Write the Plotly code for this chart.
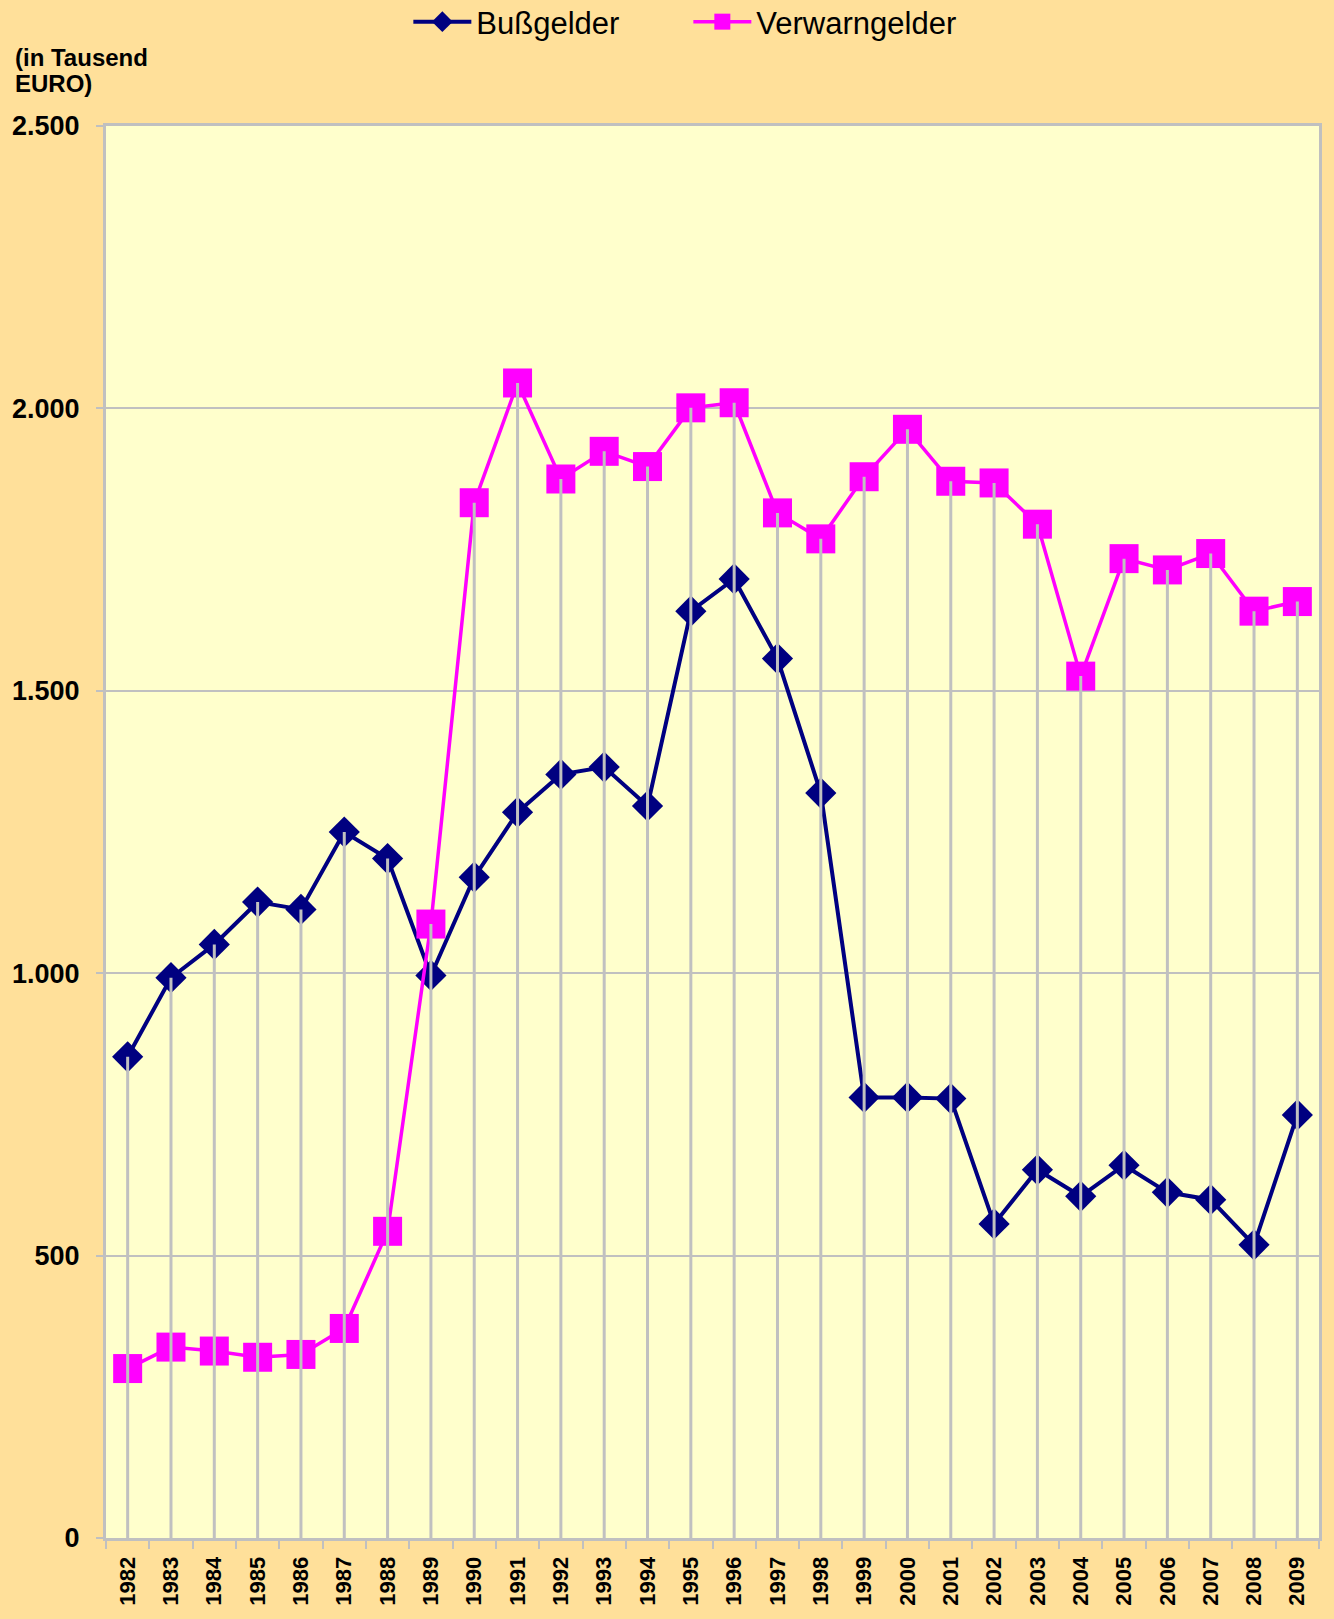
import plotly.graph_objects as go

years = [str(y) for y in range(1982, 2010)]
bussgelder = [852, 992, 1051, 1126, 1113, 1250, 1203, 996, 1170, 1285, 1352, 1365, 1296, 1641,
              1698, 1557, 1319, 780, 780, 778, 556, 652, 605, 660, 612, 599, 519, 749]
verwarngelder = [300, 338, 331, 320, 325, 371, 543, 1087, 1833, 2045, 1875, 1924, 1897, 2001,
                 2010, 1815, 1769, 1879, 1963, 1871, 1868, 1795, 1526, 1734, 1714, 1743, 1641, 1658]
y_tickvals = [0, 500, 1000, 1500, 2000, 2500]
y_ticktext = ["0", "500", "1.000", "1.500", "2.000", "2.500"]

W, H = 1334, 1619
L, R, T, B = 100, 1319, 126, 1538
FONT = "Liberation Sans, Arial, sans-serif"
GRID = "#C0C0C0"

fig = go.Figure()
fig.add_trace(go.Scatter(
    x=years, y=bussgelder, name="Bußgelder", mode="lines+markers",
    line=dict(color="#000080", width=4),
    marker=dict(symbol="diamond", size=24, color="#000080"),
))
fig.add_trace(go.Scatter(
    x=years, y=verwarngelder, name="Verwarngelder", mode="lines+markers",
    line=dict(color="#FF00FF", width=3.5),
    marker=dict(symbol="square", size=29, color="#FF00FF"),
))

# Excel-style drop lines from the higher point of each category down to the axis
dx, dy = [], []
for yr, b, v in zip(years, bussgelder, verwarngelder):
    dx += [yr, yr, None]
    dy += [0, max(b, v), None]
fig.add_trace(go.Scatter(
    x=dx, y=dy, mode="lines", line=dict(color=GRID, width=3),
    showlegend=False, hoverinfo="skip",
))

def py(pix):
    return (B - pix) / (B - T)

def px(pix):
    return (pix - L) / (R - L)

fig.add_annotation(text="<b>(in Tausend</b>", xref="paper", yref="paper",
                   x=px(7), y=py(57), xanchor="left", yanchor="middle", showarrow=False,
                   font=dict(family=FONT, size=24, color="black"))
fig.add_annotation(text="<b>EURO)</b>", xref="paper", yref="paper",
                   x=px(7), y=py(83), xanchor="left", yanchor="middle", showarrow=False,
                   font=dict(family=FONT, size=24, color="black"))

fig.update_layout(
    width=W, height=H,
    margin=dict(l=L, r=W - R, t=T, b=H - B, pad=0),
    paper_bgcolor="#FFE09A",
    plot_bgcolor="#FFFFCC",
    font=dict(family=FONT, color="black"),
    showlegend=True,
    legend=dict(
        orientation="h", xref="container", yref="container",
        x=0.516, xanchor="center", y=1 - 22 / H, yanchor="middle",
        font=dict(family=FONT, size=31, color="black"),
        bgcolor="rgba(0,0,0,0)", entrywidth=207, entrywidthmode="pixels",
        itemsizing="trace", itemwidth=58,
    ),
    xaxis=dict(
        type="category", range=[-0.5, len(years) - 0.5],
        showgrid=False, zeroline=False,
        showline=True, linecolor=GRID, linewidth=3, mirror=True,
        ticks="outside", tickson="boundaries", ticklen=8, tickcolor=GRID, tickwidth=2,
        tickangle=-90, ticklabelstandoff=7,
        tickfont=dict(family=FONT, size=22, color="black", weight="bold"),
        fixedrange=True,
    ),
    yaxis=dict(
        range=[0, 2500], tickvals=y_tickvals, ticktext=y_ticktext,
        showgrid=True, gridcolor=GRID, gridwidth=2, zeroline=False,
        showline=True, linecolor=GRID, linewidth=3, mirror=True,
        ticks="outside", ticklen=7, tickcolor=GRID, tickwidth=2,
        ticklabelstandoff=11,
        tickfont=dict(family=FONT, size=27, color="black", weight="bold"),
        fixedrange=True,
    ),
)

fig.write_html("out.html", config={"displayModeBar": False},
               post_script="document.body.style.margin='0';document.body.style.overflow='hidden';")
